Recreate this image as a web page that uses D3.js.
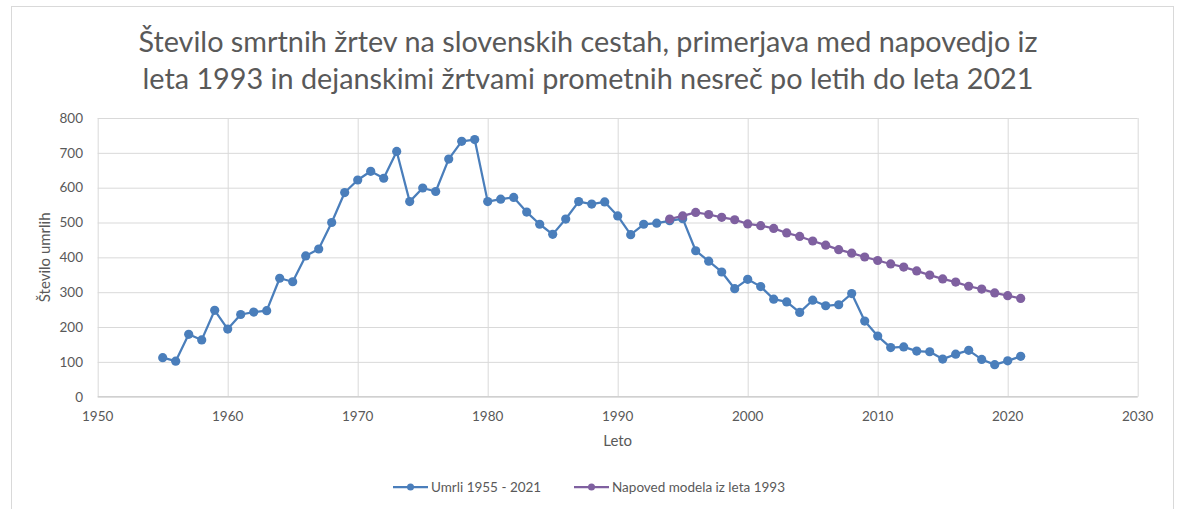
<!DOCTYPE html>
<html>
<head>
<meta charset="utf-8">
<script src="https://cdn.jsdelivr.net/npm/d3@7"></script>
<style>
  body { margin: 0; background: #fff; }
  svg { font-family: Lato, "Open Sans", sans-serif; }
</style>
</head>
<body>
<div id="chart"></div>
<script>
// Actual road deaths 1955 - 2021
const yearsActual = d3.range(1955, 2022);
const deaths = [
  112, 102, 179, 163, 248, 194, 236, 243, 247, 340,
  330, 404, 424, 500, 586, 622, 647, 627, 704, 560,
  599, 589, 682, 733, 738, 560, 567, 572, 530, 495,
  466, 510, 560, 553, 559, 519, 465, 495, 498, 505,
  511, 419, 389, 358, 310, 337, 316, 280, 272, 242,
  277, 261, 264, 296, 217, 174, 141, 143, 131, 129,
  108, 122, 133, 107, 92, 103, 116
];

// Forecast of the 1993 model
const yearsModel = d3.range(1994, 2022);
const forecast = [
  510, 519, 529, 523, 515, 508, 496, 491, 483, 470,
  460, 447, 435, 422, 412, 401, 391, 381, 372, 361,
  349, 338, 329, 317, 309, 298, 290, 282
];

const xTicks = [1950, 1960, 1970, 1980, 1990, 2000, 2010, 2020, 2030];
const yTicks = [0, 100, 200, 300, 400, 500, 600, 700, 800];

const titleLines = [
  'Število smrtnih žrtev na slovenskih cestah, primerjava med napovedjo iz',
  'leta 1993 in dejanskimi žrtvami prometnih nesreč po letih do leta 2021'
];

const seriesNames = ['Umrli 1955 - 2021', 'Napoved modela iz leta 1993'];
const colors = ['#4A7EBB', '#7F60A0'];

const width = 1179;
const height = 509;
const textColor = '#595959';
const gridColor = '#d9d9d9';

const svg = d3.select('#chart')
  .append('svg')
  .attr('width', width)
  .attr('height', height);

// chart frame
svg.append('rect')
  .attr('x', 11.5).attr('y', 6.5)
  .attr('width', 1162).attr('height', 520)
  .attr('fill', '#fff')
  .attr('stroke', '#d9d9d9');

const x = d3.scaleLinear().domain([1950, 2030]).range([97.7, 1137.7]);
const y = d3.scaleLinear().domain([0, 800]).range([396.7, 118]);

// title
svg.append('g')
  .selectAll('text')
  .data(titleLines)
  .join('text')
  .attr('x', 588)
  .attr('y', (d, i) => 52 + i * 37)
  .attr('text-anchor', 'middle')
  .attr('fill', textColor)
  .style('font-size', '28.8px')
  .text(d => d);

// gridlines
svg.append('g')
  .attr('transform', `translate(${x.range()[0]},0)`)
  .call(d3.axisLeft(y).tickValues(yTicks).tickFormat('').tickSize(-(x.range()[1] - x.range()[0])))
  .call(g => g.select('.domain').remove())
  .call(g => g.selectAll('line').attr('stroke', gridColor));

svg.append('g')
  .attr('transform', `translate(0,${y.range()[0]})`)
  .call(d3.axisBottom(x).tickValues(xTicks).tickFormat('').tickSize(-(y.range()[0] - y.range()[1])))
  .call(g => g.select('.domain').remove())
  .call(g => g.selectAll('line').attr('stroke', gridColor));

// axis line at the bottom
svg.append('line')
  .attr('x1', x.range()[0]).attr('x2', x.range()[1])
  .attr('y1', y(0)).attr('y2', y(0))
  .attr('stroke', '#d0d0d0')
  .attr('stroke-width', 1.3);

// tick labels
svg.append('g')
  .selectAll('text')
  .data(yTicks)
  .join('text')
  .attr('x', 83)
  .attr('y', d => y(d) + 4.8)
  .attr('text-anchor', 'end')
  .attr('fill', textColor)
  .style('font-size', '13.5px')
  .text(d => d);

svg.append('g')
  .selectAll('text')
  .data(xTicks)
  .join('text')
  .attr('x', d => x(d))
  .attr('y', 421)
  .attr('text-anchor', 'middle')
  .attr('fill', textColor)
  .style('font-size', '13.5px')
  .text(d => d);

// axis titles
svg.append('text')
  .attr('transform', `translate(50,${(y(0) + y(800)) / 2}) rotate(-90)`)
  .attr('text-anchor', 'middle')
  .attr('fill', textColor)
  .style('font-size', '15px')
  .text('Število umrlih');

svg.append('text')
  .attr('x', (x(1950) + x(2030)) / 2)
  .attr('y', 446)
  .attr('text-anchor', 'middle')
  .attr('fill', textColor)
  .style('font-size', '15px')
  .text('Leto');

// series
const series = [
  { name: seriesNames[0], color: colors[0], values: yearsActual.map((yr, i) => ({ year: yr, value: deaths[i] })) },
  { name: seriesNames[1], color: colors[1], values: yearsModel.map((yr, i) => ({ year: yr, value: forecast[i] })) }
];

const line = d3.line().x(d => x(d.year)).y(d => y(d.value));

series.forEach(s => {
  const g = svg.append('g');
  g.append('path')
    .datum(s.values)
    .attr('d', line)
    .attr('fill', 'none')
    .attr('stroke', s.color)
    .attr('stroke-width', 2.25)
    .attr('stroke-linejoin', 'round');
  g.selectAll('circle')
    .data(s.values)
    .join('circle')
    .attr('cx', d => x(d.year))
    .attr('cy', d => y(d.value))
    .attr('r', 4.6)
    .attr('fill', s.color);
});

// legend
const legendItems = [
  { name: seriesNames[0], color: colors[0], x0: 393 },
  { name: seriesNames[1], color: colors[1], x0: 574 }
];

const legend = svg.append('g');
legendItems.forEach(item => {
  const g = legend.append('g').attr('transform', `translate(${item.x0},487)`);
  g.append('line')
    .attr('x1', 0).attr('x2', 35)
    .attr('stroke', item.color)
    .attr('stroke-width', 2.25);
  g.append('circle')
    .attr('cx', 17.5)
    .attr('r', 3.5)
    .attr('fill', item.color);
  g.append('text')
    .attr('x', 38)
    .attr('y', 4.5)
    .attr('fill', textColor)
    .style('font-size', '13.5px')
    .text(item.name);
});
</script>
</body>
</html>
